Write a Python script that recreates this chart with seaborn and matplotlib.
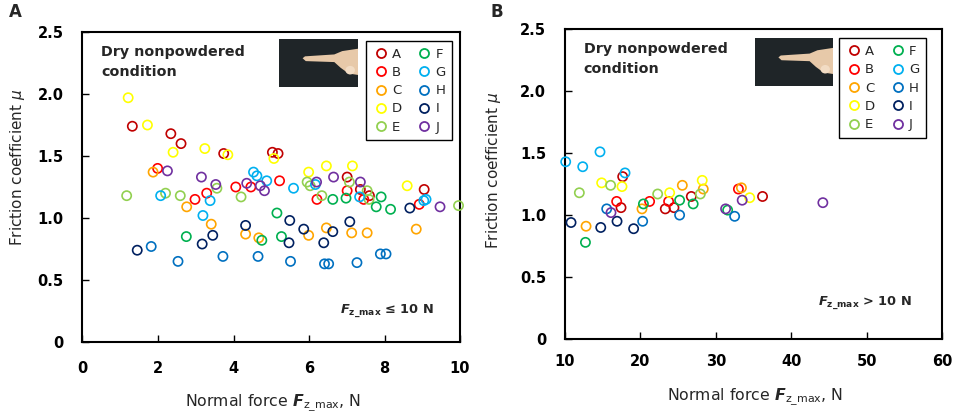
import matplotlib
matplotlib.use("Agg")
import matplotlib.pyplot as plt
import numpy as np
import pandas as pd
import seaborn as sns
from matplotlib.lines import Line2D
from matplotlib.patches import Polygon, Ellipse

sns.set_style("ticks")
plt.rcParams["font.family"] = ["DejaVu Sans"]
plt.rcParams["mathtext.fontset"] = "custom"
plt.rcParams["mathtext.it"] = "DejaVu Sans:italic:bold"
plt.rcParams["mathtext.rm"] = "DejaVu Sans:bold"
plt.rcParams["mathtext.bf"] = "DejaVu Sans:bold"
plt.rcParams["mathtext.sf"] = "DejaVu Sans"
plt.rcParams["mathtext.cal"] = "DejaVu Sans:italic"

subjects = ["A", "B", "C", "D", "E", "F", "G", "H", "I", "J"]
subject_colors = ["#C00000", "#FF0000", "#FFA500", "#FFFF00", "#92D050",
                  "#00B050", "#00B0F0", "#0070C0", "#002060", "#7030A0"]

# Panel A: Fz_max <= 10 N
lo_subject = list("AAAAAAAAAA" "BBBBBBBBBB" "CCCCCCCCCC" "DDDDDDDDDD" "EEEEEEEEEEEE"
                  "FFFFFFFFF" "GGGGGGGGGGG" "HHHHHHHHHH" "IIIIIIIIIII" "JJJJJJJJJJ")
lo_force = [1.32, 2.34, 2.61, 3.74, 5.03, 5.18, 7.01, 7.36, 7.60, 9.05,
            1.99, 3.29, 2.98, 4.06, 4.46, 5.22, 6.21, 7.01, 7.45, 8.92,
            1.87, 2.76, 3.41, 4.32, 4.67, 5.99, 6.46, 7.13, 7.54, 8.84,
            1.21, 1.72, 2.40, 3.24, 3.85, 5.07, 5.99, 6.46, 7.15, 8.60,
            1.17, 2.20, 2.59, 3.56, 4.20, 5.95, 6.03, 6.34, 7.07, 7.54, 7.59, 9.96,
            2.75, 4.75, 5.15, 5.27, 6.63, 6.98, 7.78, 7.91, 8.16,
            2.07, 3.19, 3.38, 4.53, 4.62, 4.88, 5.59, 6.17, 7.34, 9.04, 9.10,
            1.82, 2.53, 3.72, 4.65, 5.51, 6.41, 6.52, 7.27, 7.89, 8.04,
            1.45, 3.17, 3.45, 4.32, 5.47, 5.49, 5.86, 6.39, 6.63, 7.08, 8.67,
            2.25, 3.15, 3.53, 4.35, 4.71, 4.82, 6.20, 6.65, 7.36, 9.47]
lo_mu = [1.74, 1.68, 1.60, 1.52, 1.53, 1.52, 1.33, 1.23, 1.18, 1.23,
         1.40, 1.20, 1.15, 1.25, 1.25, 1.30, 1.15, 1.22, 1.15, 1.11,
         1.37, 1.09, 0.95, 0.87, 0.84, 0.86, 0.92, 0.88, 0.88, 0.91,
         1.97, 1.75, 1.53, 1.56, 1.51, 1.48, 1.37, 1.42, 1.42, 1.26,
         1.18, 1.20, 1.18, 1.24, 1.17, 1.29, 1.26, 1.18, 1.29, 1.22, 1.15, 1.10,
         0.85, 0.82, 1.04, 0.85, 1.15, 1.16, 1.09, 1.17, 1.07,
         1.18, 1.02, 1.14, 1.37, 1.34, 1.30, 1.24, 1.27, 1.17, 1.14, 1.15,
         0.77, 0.65, 0.69, 0.69, 0.65, 0.63, 0.63, 0.64, 0.71, 0.71,
         0.74, 0.79, 0.86, 0.94, 0.80, 0.98, 0.91, 0.80, 0.89, 0.97, 1.08,
         1.38, 1.33, 1.27, 1.28, 1.26, 1.22, 1.29, 1.33, 1.29, 1.09]

# Panel B: Fz_max > 10 N
hi_subject = list("AAAAAA" "BBBB" "CCCCC" "DDDDD" "EEEE" "FFFFF" "GGGG" "HHHH" "IIII" "JJJJ")
hi_force = [17.65, 17.43, 23.30, 24.45, 26.75, 36.20,
            16.85, 21.22, 23.74, 33.00,
            12.79, 20.21, 25.56, 28.34, 33.40,
            14.86, 17.56, 23.88, 28.20, 34.50,
            11.90, 16.05, 22.29, 27.95,
            12.71, 20.40, 25.20, 27.00, 31.57,
            10.09, 12.35, 14.64, 17.96,
            15.53, 20.30, 25.20, 32.50,
            10.80, 14.74, 16.90, 19.10,
            16.10, 31.30, 33.50, 44.20]
hi_mu = [1.31, 1.06, 1.05, 1.06, 1.15, 1.15,
         1.11, 1.11, 1.11, 1.21,
         0.91, 1.05, 1.24, 1.21, 1.22,
         1.26, 1.23, 1.18, 1.28, 1.14,
         1.18, 1.24, 1.17, 1.17,
         0.78, 1.09, 1.12, 1.09, 1.04,
         1.43, 1.39, 1.51, 1.34,
         1.05, 0.95, 1.00, 0.99,
         0.94, 0.90, 0.95, 0.89,
         1.02, 1.05, 1.12, 1.10]

y_ticks = [0, 0.5, 1.0, 1.5, 2.0, 2.5]
y_tick_labels = ["0", "0.5", "1.0", "1.5", "2.0", "2.5"]
xA_ticks = [0, 2, 4, 6, 8, 10]
xB_ticks = [10, 20, 30, 40, 50, 60]

palette = dict(zip(subjects, subject_colors))

fig = plt.figure(figsize=(9.57, 4.16), dpi=100)
axA = fig.add_axes([0.0862, 0.178, 0.3945, 0.745])
axB = fig.add_axes([0.5904, 0.185, 0.3939, 0.745])


def draw_photo(ax, rect):
    ins = ax.inset_axes(rect)
    ins.set_facecolor("#1f2528")
    ins.set_xlim(0, 1)
    ins.set_ylim(0, 1)
    ins.set_xticks([])
    ins.set_yticks([])
    for s in ins.spines.values():
        s.set_visible(False)
    finger = Polygon([[0.30, 0.60], [0.33, 0.64], [0.70, 0.68], [0.80, 0.75],
                      [1.0, 0.80], [1.0, 0.25], [0.88, 0.28], [0.78, 0.40],
                      [0.70, 0.52], [0.34, 0.54]],
                     closed=True, facecolor="#e7c9a9", edgecolor="none")
    ins.add_patch(finger)
    ins.add_patch(Ellipse((0.90, 0.35), 0.12, 0.18, facecolor="#f2dcc4", edgecolor="none"))


def panel(ax, df, xlim, xticks, rect_photo, legend_anchor, note, note_xy,
          ylab_xy, xlab_y, xpad):
    sns.scatterplot(data=df, x="force", y="mu", hue="subject", hue_order=subjects,
                    palette=palette, s=44, linewidth=1.2, legend=False, ax=ax,
                    clip_on=False, zorder=3)
    coll = ax.collections[-1]
    fc = coll.get_facecolors()
    coll.set_edgecolors(fc)
    coll.set_facecolors("none")

    ax.set_xlim(*xlim)
    ax.set_ylim(0, 2.5)
    ax.set_xticks(xticks)
    ax.set_xticklabels([str(t) for t in xticks], fontweight="bold")
    ax.set_yticks(y_ticks)
    ax.set_yticklabels(y_tick_labels, fontweight="bold")
    ax.tick_params(axis="both", direction="in", length=5, width=1.0, labelsize=10.5,
                   colors="black")
    ax.tick_params(axis="x", pad=xpad)
    ax.tick_params(axis="y", pad=13.5)
    for s in ax.spines.values():
        s.set_visible(True)
        s.set_linewidth(1.5)
        s.set_color("black")

    ax.set_ylabel(r"Friction coefficient $\mathcal{\mu}$", fontsize=11)
    ax.yaxis.set_label_coords(*ylab_xy)
    ax.set_xlabel(r"Normal force $F_{\mathsf{z\_max}}$, N", fontsize=11.3)
    ax.xaxis.set_label_coords(0.505, xlab_y)

    ax.text(0.05, 0.957, "Dry nonpowdered\ncondition", transform=ax.transAxes,
            ha="left", va="top", fontsize=10.3, fontweight="bold", linespacing=1.5)

    draw_photo(ax, rect_photo)

    handles = [Line2D([0], [0], marker="o", linestyle="", markerfacecolor="none",
                      markeredgecolor=c, markersize=6.5, markeredgewidth=1.3)
               for c in subject_colors]
    leg = ax.legend(handles, subjects, ncol=2, loc="upper right",
                    bbox_to_anchor=legend_anchor, bbox_transform=ax.transAxes,
                    frameon=True, fancybox=False, framealpha=1, edgecolor="black",
                    fontsize=9.5, handletextpad=0.25, columnspacing=1.1,
                    labelspacing=0.4, borderpad=0.5, handlelength=1.2,
                    borderaxespad=0)
    leg.get_frame().set_linewidth(1.0)

    ax.text(note_xy[0], note_xy[1], note, transform=ax.transAxes, ha="left",
            va="center", fontsize=9.3, fontweight="bold")


dfA = pd.DataFrame({"subject": lo_subject, "force": lo_force, "mu": lo_mu})
dfB = pd.DataFrame({"subject": hi_subject, "force": hi_force, "mu": hi_mu})

panel(axA, dfA, (0, 10), xA_ticks, [0.52, 0.823, 0.21, 0.154], (0.98, 0.971),
      r"$F_{\mathrm{z\_max}}$ ≤ 10 N", (0.682, 0.098), (-0.146, 0.563), -0.166, 14)
panel(axB, dfB, (10, 60), xB_ticks, [0.504, 0.817, 0.207, 0.153], (0.957, 0.970),
      r"$F_{\mathrm{z\_max}}$ > 10 N", (0.671, 0.116), (-0.164, 0.545), -0.155, 10.5)

fig.text(15 / 957, 1 - 12 / 416, "A", ha="center", va="center", fontsize=12, fontweight="bold")
fig.text(497 / 957, 1 - 12 / 416, "B", ha="center", va="center", fontsize=12, fontweight="bold")

fig.savefig("out.png", dpi=100)
